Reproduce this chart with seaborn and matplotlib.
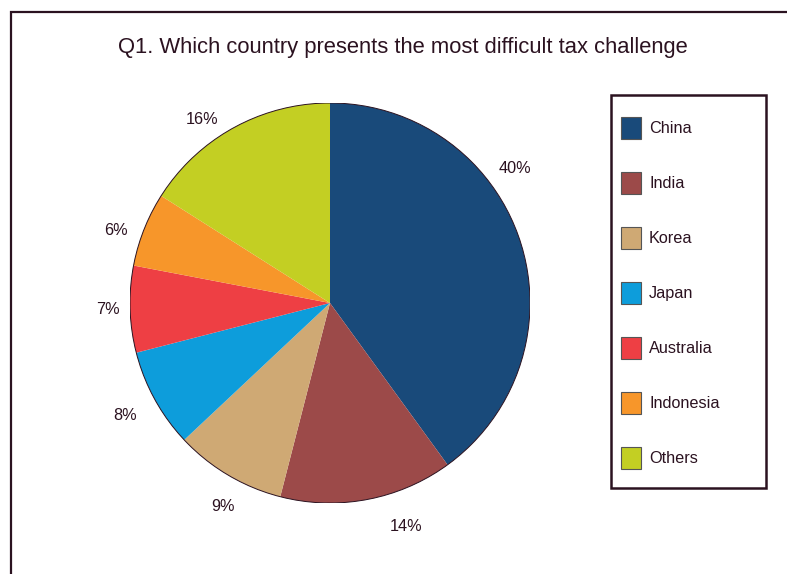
import matplotlib
matplotlib.use("Agg")
import matplotlib.pyplot as plt
from matplotlib.patches import Patch, Rectangle, Circle
import numpy as np
import seaborn as sns

sns.set_theme(style="white")
plt.rcParams["font.family"] = ["Liberation Sans", "DejaVu Sans"]

countries = ["China", "India", "Korea", "Japan", "Australia", "Indonesia", "Others"]
shares = [40, 14, 9, 8, 7, 6, 16]
colors = ["#194a7a", "#9c4a49", "#cfa974", "#0d9ddb", "#ee3f44", "#f7962a", "#c3cf23"]
title = "Q1. Which country presents the most difficult tax challenge"

ink = "#2b1220"
W, H = 787, 574

fig = plt.figure(figsize=(W / 100, H / 100), dpi=100)
fig.patch.set_facecolor("white")

# outer frame running off the right and bottom edges
fig.add_artist(Rectangle((11 / W, -0.05), 1.0, 1 - 12 / H + 0.05,
                         transform=fig.transFigure, fill=False,
                         edgecolor=ink, linewidth=1.6))

fig.text(403 / W, 1 - 47 / H, title, ha="center", va="center",
         fontsize=15.8, color=ink)

ax = fig.add_axes([130 / W, 71 / H, 400 / W, 400 / H])
wedges, _ = ax.pie(shares, colors=colors, startangle=90, counterclock=False,
                   radius=1.0, wedgeprops=dict(linewidth=0))
ax.add_patch(Circle((0, 0), 1.0, fill=False, edgecolor=ink, linewidth=0.7))

# percentage labels around the rim, a couple nudged along the arc
nudge = [18, 8, 3, 0, 0, 3, 6]
dist = [1.14, 1.18, 1.15, 1.17, 1.11, 1.13, 1.12]
for w, v, dn, d in zip(wedges, shares, nudge, dist):
    ang = np.deg2rad((w.theta1 + w.theta2) / 2 + dn)
    ax.text(d * np.cos(ang), d * np.sin(ang), f"{v}%", ha="center", va="center",
            fontsize=11.7, color=ink)
ax.set_xlim(-1, 1)
ax.set_ylim(-1, 1)
ax.set_aspect("equal")
ax.axis("off")

# legend box
fig.add_artist(Rectangle((611 / W, 1 - 488 / H), 155 / W, 393 / H,
                         transform=fig.transFigure, fill=False,
                         edgecolor=ink, linewidth=1.8))

handles = [Patch(facecolor=c, edgecolor="#555555", linewidth=0.8) for c in colors]
leg = fig.legend(handles, countries, loc="upper left",
                 bbox_to_anchor=(621 / W, 1 - 117 / H),
                 frameon=False, fontsize=11.7,
                 handlelength=1.23, handleheight=1.75, handletextpad=0.5,
                 labelspacing=2.0, borderpad=0, borderaxespad=0)
for t in leg.get_texts():
    t.set_color(ink)

fig.savefig("out.png", dpi=100)
